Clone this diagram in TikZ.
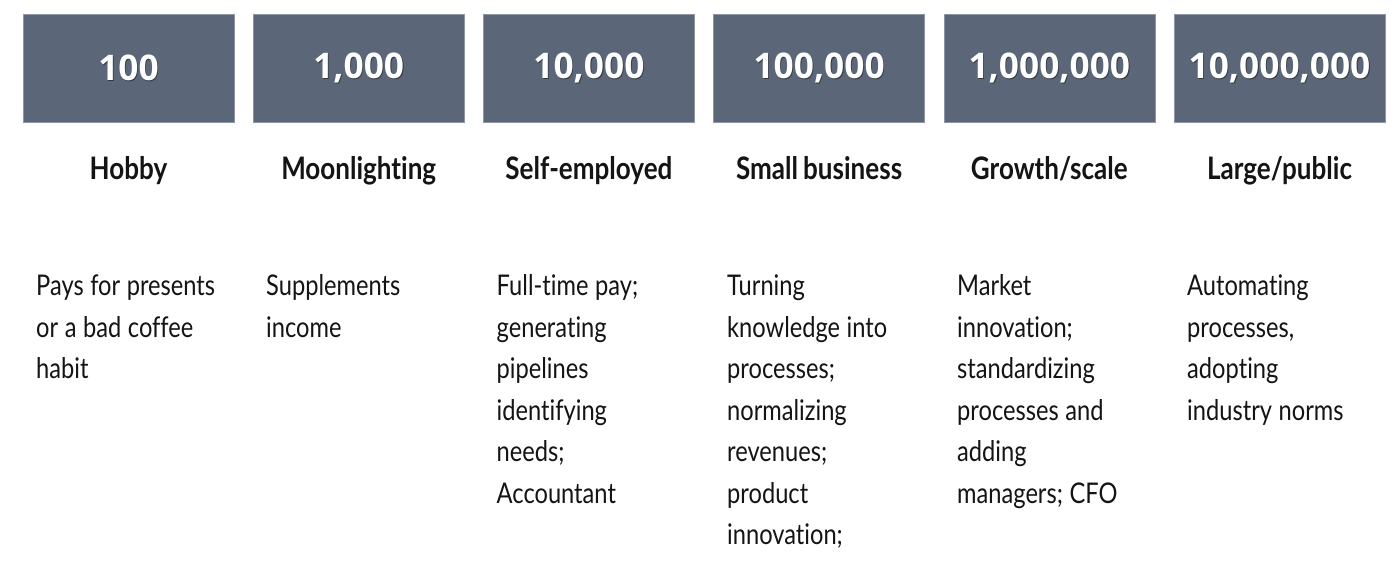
\documentclass[tikz,border=0pt]{standalone}
\usepackage{fontspec}
\setmainfont{Lato}
\newfontfamily\numfont{Open Sans}
\newfontfamily\titlefont[FakeStretch=0.84,WordSpace=0.8,Ligatures=NoCommon]{Lato}
\newfontfamily\bodyfont[FakeStretch=0.83,Ligatures=NoCommon]{Lato}
\definecolor{boxfill}{RGB}{91,103,120}
\definecolor{boxedge}{RGB}{140,150,165}
\definecolor{txt}{RGB}{20,20,20}
\begin{document}
\begin{tikzpicture}[x=1pt,y=-1pt,
  numbox/.style={fill=boxfill, draw=boxedge, line width=0.4pt, minimum width=211pt, minimum height=107.5pt, inner sep=0pt},
  numtext/.style={text=white, font=\numfont\bfseries\fontsize{35.3}{42}\selectfont, inner sep=0pt},
  numshadow/.style={text=black, opacity=0.45, font=\numfont\bfseries\fontsize{35.3}{42}\selectfont, inner sep=0pt},
  titletext/.style={text=txt, font=\titlefont\bfseries\fontsize{31}{36}\selectfont, inner sep=0pt, anchor=base},
  bodytext/.style={text=txt, font=\bodyfont\fontsize{28.5}{41.5}\selectfont, inner sep=0pt, anchor=base west, text width=205pt, align=left,
    execute at begin node={\spaceskip=0.23em\xspaceskip=0.23em}}
]
\useasboundingbox[fill=white] (0,0) rectangle (1400,577);
% boxes
\node[numbox] (b1) at (128.5,68.25) {};
\node[numbox] (b2) at (358.7,68.25) {};
\node[numbox] (b3) at (588.9,68.25) {};
\node[numbox] (b4) at (819.1,68.25) {};
\node[numbox] (b5) at (1049.3,68.25) {};
\node[numbox] (b6) at (1279.5,68.25) {};
% number shadows
\node[numshadow] (s1) at (129.3,69.2) {100};
\node[numshadow] (s2) at (359.5,69.2) {1,000};
\node[numshadow] (s3) at (589.7,69.2) {10,000};
\node[numshadow] (s4) at (819.9,69.2) {100,000};
\node[numshadow] (s5) at (1050.1,69.2) {1,000,000};
\node[numshadow] (s6) at (1280.3,69.2) {10,000,000};
% numbers
\node[numtext] (n1) at (128.5,68.25) {100};
\node[numtext] (n2) at (358.7,68.25) {1,000};
\node[numtext] (n3) at (588.9,68.25) {10,000};
\node[numtext] (n4) at (819.1,68.25) {100,000};
\node[numtext] (n5) at (1049.3,68.25) {1,000,000};
\node[numtext] (n6) at (1279.5,68.25) {10,000,000};
% titles
\node[titletext] (t1) at (128.5,180) {Hobby};
\node[titletext] (t2) at (358.7,180) {Moonlighting};
\node[titletext] (t3) at (588.9,180) {Self-employed};
\node[titletext] (t4) at (819.1,180) {Small business};
\node[titletext] (t5) at (1049.3,180) {Growth/scale};
\node[titletext] (t6) at (1279.5,180) {Large/public};
% descriptions
\node[bodytext] (d1) at (36,296) {Pays for presents\\or a bad coffee\\habit};
\node[bodytext] (d2) at (266,296) {Supplements\\income};
\node[bodytext] (d3) at (496.5,296) {Full-time pay;\\generating\\pipelines\\identifying\\needs;\\Accountant};
\node[bodytext] (d4) at (727,296) {Turning\\knowledge into\\processes;\\normalizing\\revenues;\\product\\innovation;};
\node[bodytext] (d5) at (957,296) {Market\\innovation;\\standardizing\\processes and\\adding\\managers; CFO};
\node[bodytext] (d6) at (1187,296) {Automating\\processes,\\adopting\\industry norms};
\end{tikzpicture}
\end{document}
